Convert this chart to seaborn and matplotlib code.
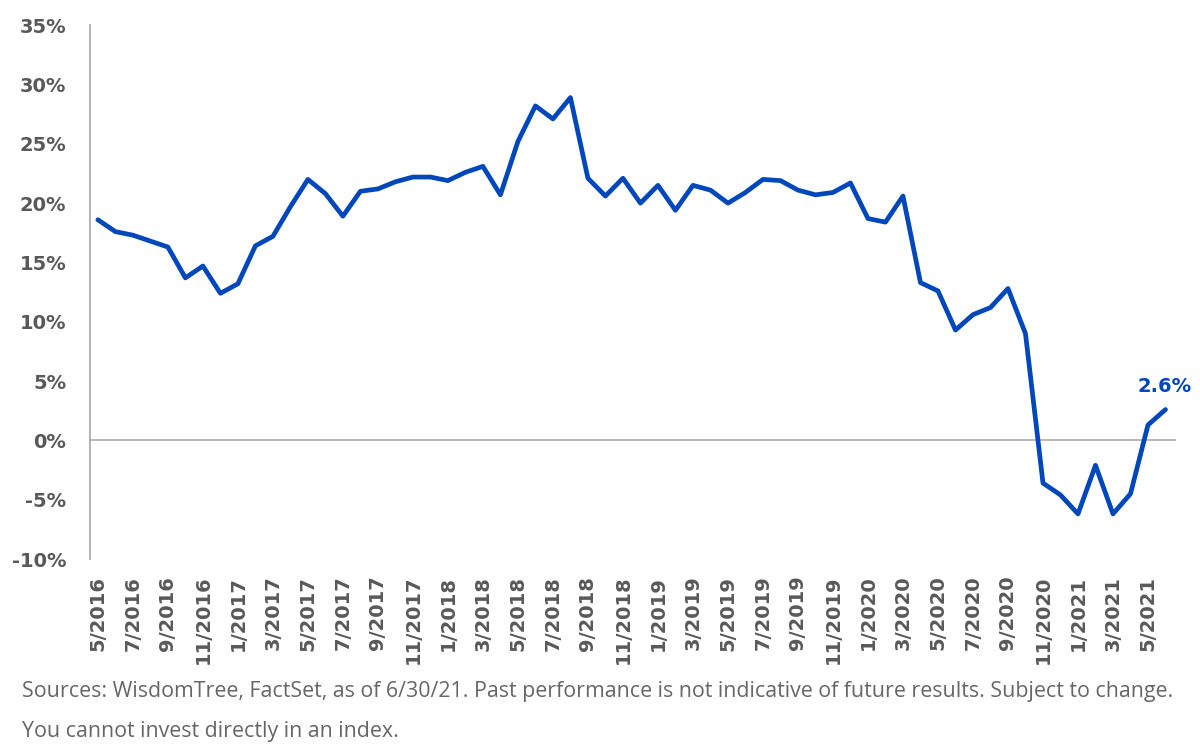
import pandas as pd
import matplotlib
matplotlib.use("Agg")
from matplotlib import pyplot as plt
import seaborn as sns

# Data (monthly, 5/2016 .. 6/2021)
months = pd.date_range("2016-05-01", "2021-06-01", freq="MS")
month_labels = [f"{d.month}/{d.year}" for d in months]
values = [18.6, 17.6, 17.3, 16.8, 16.3, 13.7, 14.7, 12.4, 13.2, 16.4,
          17.2, 19.7, 22.0, 20.8, 18.9, 21.0, 21.2, 21.8, 22.2, 22.2,
          21.9, 22.6, 23.1, 20.7, 25.2, 28.2, 27.1, 28.9, 22.1, 20.6,
          22.1, 20.0, 21.5, 19.4, 21.5, 21.1, 20.0, 20.9, 22.0, 21.9,
          21.1, 20.7, 20.9, 21.7, 18.7, 18.4, 20.6, 13.3, 12.6, 9.3,
          10.6, 11.2, 12.8, 9.0, -3.6, -4.6, -6.2, -2.1, -6.2, -4.5,
          1.3, 2.6]
y_ticks = [-10, -5, 0, 5, 10, 15, 20, 25, 30, 35]
footnotes = ["Sources: WisdomTree, FactSet, as of 6/30/21. Past performance is not indicative of future results. Subject to change.",
             "You cannot invest directly in an index."]

BLUE = "#0047BB"
GREY_TEXT = "#595959"
GREY_NOTE = "#666666"
GREY_LINE = "#A6A6A6"

df = pd.DataFrame({"idx": range(len(values)), "label": month_labels, "value": values})

sns.set_theme(style="white")
plt.rcParams['font.family'] = ['DejaVu Sans']

fig = plt.figure(figsize=(12, 7.55), dpi=100)
ax = fig.add_axes([0.075, 0.2596, 0.905, 0.707])

sns.lineplot(data=df, x="idx", y="value", color=BLUE, linewidth=3.4, ax=ax)
ax.axhline(0, color=GREY_LINE, linewidth=1.1, zorder=0)

ax.set_xlim(-0.45, 61.6)
ax.set_ylim(-10, 35)
ax.set_yticks(y_ticks)
ax.set_yticklabels([f"{t}%" for t in y_ticks])
tick_pos = df["idx"][::2]
ax.set_xticks(tick_pos)
ax.set_xticklabels(df["label"][::2], rotation=90)
ax.set_xlabel("")
ax.set_ylabel("")
ax.tick_params(axis="both", length=0, labelsize=14, labelcolor=GREY_TEXT)
ax.tick_params(axis="y", pad=17)
ax.tick_params(axis="x", pad=12)
for lbl in ax.get_xticklabels() + ax.get_yticklabels():
    lbl.set_fontweight("bold")

for side in ["top", "right", "bottom"]:
    ax.spines[side].set_visible(False)
ax.spines["left"].set_color(GREY_LINE)
ax.spines["left"].set_linewidth(1.2)

last = df.iloc[-1]
ax.annotate(f"{last['value']}%", xy=(last["idx"], last["value"]), xytext=(-1, 10),
            textcoords="offset points", ha="center", va="bottom",
            color=BLUE, fontsize=14, fontweight="bold", annotation_clip=False)

fig.text(22 / 1200, 58 / 755, footnotes[0], family=["Open Sans", "DejaVu Sans"],
         fontsize=15.4, color=GREY_NOTE, va="baseline")
fig.text(22 / 1200, 18 / 755, footnotes[1], family=["Open Sans", "DejaVu Sans"],
         fontsize=15.4, color=GREY_NOTE, va="baseline")

fig.savefig("out.png", dpi=100)
